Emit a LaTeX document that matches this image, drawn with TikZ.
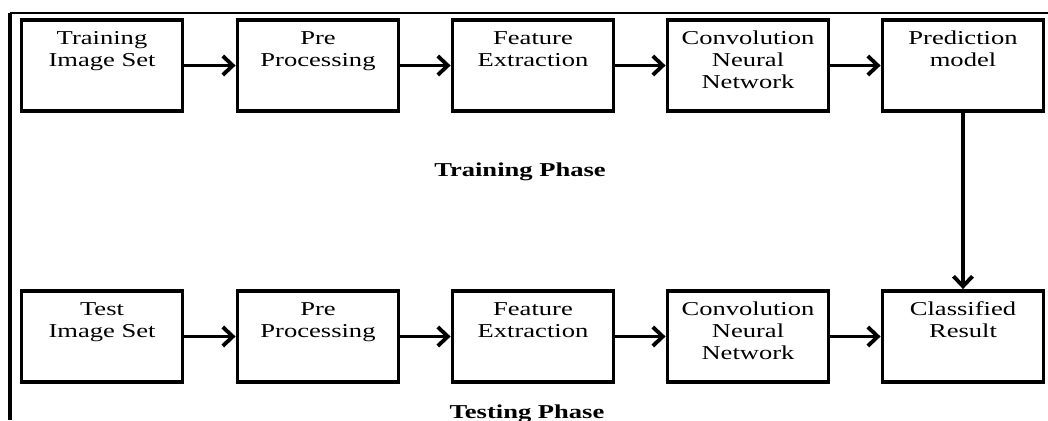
\documentclass[tikz,border=0pt]{standalone}
\usepackage{fontspec}
\setmainfont[FakeStretch=1.35]{Liberation Serif}
\usepackage{tikz}
\usetikzlibrary{arrows.meta}

\tikzset{
  stage/.style={draw, line width=2.2pt, inner sep=0pt,
    minimum width=3.22cm, minimum height=1.82cm,
    font=\fontsize{11.2}{12.5}\selectfont,
    execute at begin node={\begin{minipage}[c][1.82cm][t]{3.22cm}\centering\vspace*{0.18cm}\strut},
    execute at end node={\end{minipage}}},
  flow/.style={line width=2.2pt, -{Straight Barb[length=0.2cm, width=0.38cm]}},
  phase/.style={font=\fontsize{11.2}{12.5}\selectfont\bfseries, anchor=base}
}

\begin{document}
\begin{tikzpicture}[x=0.02cm, y=0.02cm]
  \useasboundingbox (0,0) rectangle (1048,420);
  % outer frame (top and left only)
  \draw[line width=1.2pt] (10,407) -- (1048,407);
  \draw[line width=1.8pt] (10,407) -- (10,0);
  % training row
  \foreach \n/\xc/\txt in
      {1/102/{Training\\Image Set}, 2/318/{Pre\\Processing},
       3/533/{Feature\\Extraction}, 4/748/{Convolution\\Neural\\Network},
       5/963/{Prediction\\model}} {
    \node[stage] (tr\n) at (\xc, 354.5) {\txt};
  }
  % testing row
  \foreach \n/\xc/\txt in
      {1/102/{Test\\Image Set}, 2/318/{Pre\\Processing},
       3/533/{Feature\\Extraction}, 4/748/{Convolution\\Neural\\Network},
       5/963/{Classified\\Result}} {
    \node[stage] (te\n) at (\xc, 83.5) {\txt};
  }
  \foreach \i in {1,...,4} {
    \pgfmathtruncatemacro\j{\i + 1}
    \draw[flow] (tr\i) -- (tr\j);
    \draw[flow] (te\i) -- (te\j);
  }
  \draw[flow] (tr5) -- (te5);
  \node[phase] (trainphase) at (520, 244) {Training Phase};
  \node[phase] (testphase) at (527, 2) {Testing Phase};
\end{tikzpicture}
\end{document}
